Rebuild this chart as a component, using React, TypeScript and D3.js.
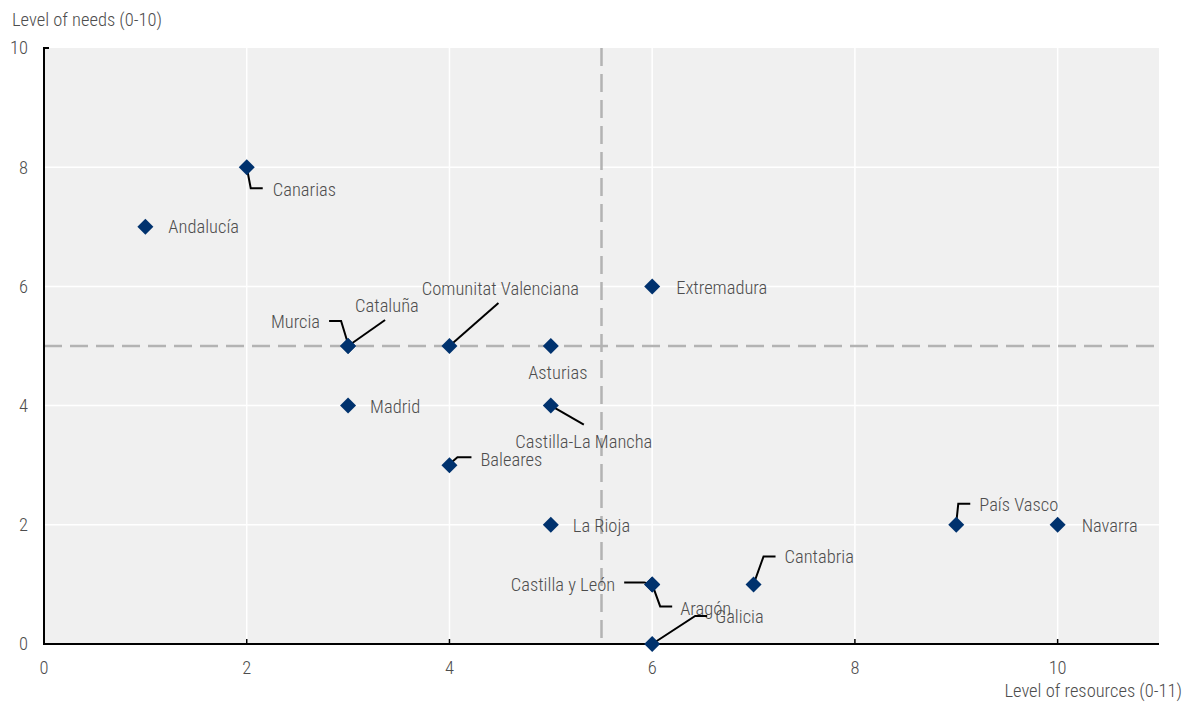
import React from "react";
import * as d3 from "d3";

const regions = [
  "Andalucía", "Canarias", "Extremadura", "Murcia", "Cataluña", "Comunitat Valenciana",
  "Asturias", "Madrid", "Castilla-La Mancha", "Baleares", "La Rioja", "País Vasco",
  "Navarra", "Cantabria", "Castilla y León", "Aragón", "Galicia",
];
const resources = [1, 2, 6, 3, 3, 4, 5, 3, 5, 4, 5, 9, 10, 7, 6, 6, 6];
const needs = [7, 8, 6, 5, 5, 5, 5, 4, 4, 3, 2, 2, 2, 1, 1, 1, 0];
const xTicks = [0, 2, 4, 6, 8, 10];
const yTicks = [0, 2, 4, 6, 8, 10];
const xRefLine = 5.5;
const yRefLine = 5;

type Lab = { dx: number; dy: number; anchor: string; leader?: number[][] };
const labelLayout: Record<string, Lab> = {
  "Andalucía": { dx: 23, dy: 0, anchor: "start" },
  "Canarias": { dx: 26, dy: 22, anchor: "start", leader: [[0, 0], [4, 21], [16, 21]] },
  "Extremadura": { dx: 24, dy: 1, anchor: "start" },
  "Murcia": { dx: -28, dy: -24, anchor: "end", leader: [[0, -2], [-7, -25], [-19, -25]] },
  "Cataluña": { dx: 7, dy: -40, anchor: "start", leader: [[0, 0], [37, -26]] },
  "Comunitat Valenciana": { dx: 51, dy: -57, anchor: "middle", leader: [[0, 0], [49, -43]] },
  "Asturias": { dx: 7, dy: 27, anchor: "middle" },
  "Madrid": { dx: 22, dy: 1, anchor: "start" },
  "Castilla-La Mancha": { dx: 33, dy: 36, anchor: "middle", leader: [[0, 0], [33, 19]] },
  "Baleares": { dx: 31, dy: -6, anchor: "start", leader: [[1, -2], [8, -8], [22, -8]] },
  "La Rioja": { dx: 22, dy: 1, anchor: "start" },
  "País Vasco": { dx: 23, dy: -20, anchor: "start", leader: [[0, -2], [2, -21], [14, -21]] },
  "Navarra": { dx: 24, dy: 1, anchor: "start" },
  "Cantabria": { dx: 31, dy: -28, anchor: "start", leader: [[0, 0], [10, -28], [22, -28]] },
  "Castilla y León": { dx: -37, dy: 0, anchor: "end", leader: [[-28, -2], [-8, -2], [0, 0]] },
  "Aragón": { dx: 28, dy: 24, anchor: "start", leader: [[0, 0], [8, 22], [20, 22]] },
  "Galicia": { dx: 63, dy: -27, anchor: "start", leader: [[0, 0], [43, -28], [55, -28]] },
};

const W = 1183, H = 702;
const m = { left: 44, right: 1159, top: 48, bottom: 644 };
const FONT = "'Liberation Sans Narrow', 'Arial Narrow', 'Roboto Condensed', 'DejaVu Sans Condensed', sans-serif";
const TEXT = "#4d4d4d";
const MARK = "#00326e";
const FS = 18.5;

export default function App() {
  const x = d3.scaleLinear().domain([0, 11]).range([m.left, m.right]);
  const y = d3.scaleLinear().domain([0, 10]).range([m.bottom, m.top]);
  const line = d3.line<number[]>().x((d) => d[0]).y((d) => d[1]);
  const s = 8;
  const diamond = `M0,${-s}L${s},0L0,${s}L${-s},0Z`;
  const pts = regions.map((r, i) => ({ name: r, px: x(resources[i]), py: y(needs[i]) }));

  return (
    <svg width={W} height={H} style={{ position: "absolute", left: 0, top: 0 }} fontFamily={FONT} fontWeight={300}>
      <rect x={m.left} y={m.top} width={m.right - m.left} height={m.bottom - m.top} fill="#f0f0f0" />
      {xTicks.filter((t) => t > 0).map((t) => (
        <line key={"gx" + t} x1={x(t)} x2={x(t)} y1={m.top} y2={m.bottom} stroke="#fff" strokeWidth={1.5} />
      ))}
      {yTicks.filter((t) => t > 0 && t < 10).map((t) => (
        <line key={"gy" + t} x1={m.left} x2={m.right} y1={y(t)} y2={y(t)} stroke="#fff" strokeWidth={1.5} />
      ))}
      <line x1={x(xRefLine)} x2={x(xRefLine)} y1={m.top} y2={m.bottom} stroke="#b3b3b3" strokeWidth={2.5} strokeDasharray="18 8" />
      <line x1={m.left} x2={m.right} y1={y(yRefLine)} y2={y(yRefLine)} stroke="#b3b3b3" strokeWidth={2.5} strokeDasharray="18 8" />
      <line x1={m.left} x2={m.left} y1={m.top - 1} y2={m.bottom + 1} stroke="#000" strokeWidth={2} />
      <line x1={m.left} x2={m.left + 5} y1={m.top} y2={m.top} stroke="#000" strokeWidth={2} />
      <line x1={m.left - 1} x2={m.right} y1={m.bottom} y2={m.bottom} stroke="#000" strokeWidth={2} />
      {xTicks.map((t) => (
        <line key={"tx" + t} x1={x(t)} x2={x(t)} y1={m.bottom} y2={m.bottom - 5} stroke="#000" strokeWidth={1.5} />
      ))}
      {xTicks.map((t) => (
        <text key={"lx" + t} x={x(t)} y={668} dy="0.35em" textAnchor="middle" fontSize={FS} fill={TEXT}>{t}</text>
      ))}
      {yTicks.map((t) => (
        <text key={"ly" + t} x={28} y={y(t)} dy="0.35em" textAnchor="end" fontSize={FS} fill={TEXT}>{t}</text>
      ))}
      <text x={12} y={20} dy="0.35em" fontSize={FS} fill={TEXT}>Level of needs (0-10)</text>
      <text x={1182} y={691} dy="0.35em" textAnchor="end" fontSize={FS} fill={TEXT}>Level of resources (0-11)</text>
      {pts.map((p) => {
        const L = labelLayout[p.name];
        return L.leader ? (
          <path key={"ld" + p.name} d={line(L.leader.map((o) => [p.px + o[0], p.py + o[1]])) || ""} fill="none" stroke="#000" strokeWidth={2} />
        ) : null;
      })}
      {pts.map((p) => (
        <path key={"mk" + p.name} d={diamond} transform={`translate(${p.px},${p.py})`} fill={MARK} />
      ))}
      {pts.map((p) => {
        const L = labelLayout[p.name];
        return (
          <text key={"tl" + p.name} x={p.px + L.dx} y={p.py + L.dy} dy="0.35em" textAnchor={L.anchor} fontSize={FS} fill={TEXT}>
            {p.name}
          </text>
        );
      })}
    </svg>
  );
}
